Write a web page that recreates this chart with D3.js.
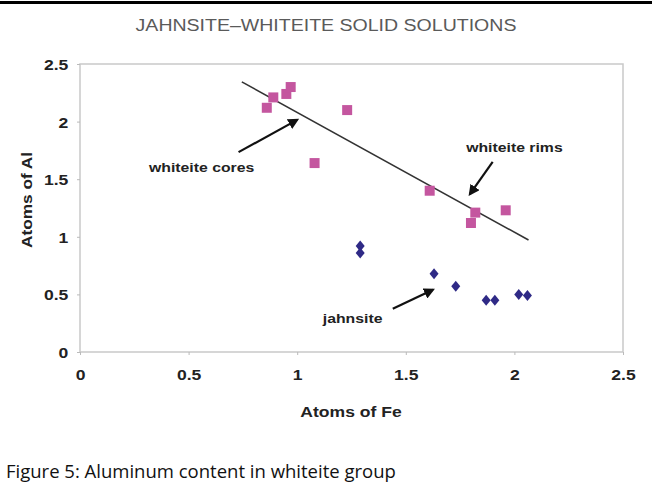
<!DOCTYPE html>
<html><head><meta charset="utf-8">
<script src="https://cdn.jsdelivr.net/npm/d3@7"></script>
<style>body{margin:0;background:#fff} svg{display:block}</style>
</head><body><svg id="c" width="652" height="483"></svg>
<script>
const chartTitle = "JAHNSITE–WHITEITE SOLID SOLUTIONS";
const xLabel = "Atoms of Fe";
const yLabel = "Atoms of Al";
const caption = "Figure 5: Aluminum content in whiteite group";
const xTicks = [0, 0.5, 1, 1.5, 2, 2.5];
const yTicks = [0, 0.5, 1, 1.5, 2, 2.5];

// whiteite (pink squares)
const whiteiteFe = [0.86, 0.89, 0.95, 0.97, 1.08, 1.23, 1.61, 1.80, 1.82, 1.96];
const whiteiteAl = [2.12, 2.21, 2.24, 2.30, 1.64, 2.10, 1.40, 1.12, 1.21, 1.23];
// jahnsite (navy diamonds)
const jahnsiteFe = [1.29, 1.29, 1.63, 1.73, 1.87, 1.91, 2.02, 2.06];
const jahnsiteAl = [0.92, 0.86, 0.68, 0.57, 0.45, 0.45, 0.50, 0.49];
// trend line
const trendFe = [0.745, 2.065];
const trendAl = [2.345, 0.972];
// annotations
const noteText = ["whiteite cores", "whiteite rims", "jahnsite"];
const noteFe = [0.56, 2.0, 1.255];
const noteAl = [1.56, 1.735, 0.25];
const arrowFromFe = [0.73, 1.90, 1.44];
const arrowFromAl = [1.735, 1.65, 0.375];
const arrowToFe = [1.0, 1.795, 1.625];
const arrowToAl = [2.015, 1.37, 0.54];

const SX = 1.17;
const svg = d3.select("#c");
const x = d3.scaleLinear().domain([0, 2.5]).range([80, 623]);
const y = d3.scaleLinear().domain([0, 2.5]).range([352, 64]);

function stretchText(sel, px, py, sx) {
  sel.attr("x", 0).attr("y", 0).attr("transform", `translate(${px},${py}) scale(${sx},1)`);
}

svg.append("rect").attr("x", 0).attr("y", 1).attr("width", 652).attr("height", 3).attr("fill", "#000");

const t = svg.append("text").text(chartTitle)
  .attr("text-anchor", "middle").attr("font-family", "Liberation Sans, Arial, sans-serif")
  .attr("font-size", 17).attr("fill", "#5a5a5a");
stretchText(t, 326, 31, 1.15);

// frame
svg.append("rect").attr("x", x(0)).attr("y", y(2.5)).attr("width", x(2.5) - x(0)).attr("height", y(0) - y(2.5))
  .attr("fill", "none").attr("stroke", "#c9c9c9").attr("stroke-width", 1.5);

const fontAx = "Liberation Sans, Arial, sans-serif";
const gx = svg.append("g").attr("transform", `translate(0,${y(0)})`)
  .call(d3.axisBottom(x).tickValues(xTicks).tickSize(3).tickPadding(14).tickFormat(d3.format("")));
const gy = svg.append("g").attr("transform", `translate(${x(0)},0)`)
  .call(d3.axisLeft(y).tickValues(yTicks).tickSize(3).tickPadding(7).tickFormat(d3.format("")));
[gx, gy].forEach(g => {
  g.select(".domain").remove();
  g.selectAll(".tick line").attr("stroke", "#bbb");
  g.selectAll(".tick text").attr("font-family", fontAx).attr("font-weight", "bold")
    .attr("font-size", 15).attr("fill", "#222");
});
gx.selectAll(".tick text").attr("transform", `scale(${SX},1)`);
gy.selectAll(".tick text").attr("transform", `scale(${SX},1)`).attr("dy", "0.36em");

const xl = svg.append("text").text(xLabel).attr("text-anchor", "middle")
  .attr("font-family", fontAx).attr("font-weight", "bold").attr("font-size", 15).attr("fill", "#222");
stretchText(xl, 351, 417, SX);
const yl = svg.append("text").text(yLabel).attr("text-anchor", "middle")
  .attr("font-family", fontAx).attr("font-weight", "bold").attr("font-size", 15).attr("fill", "#222")
  .attr("x", 0).attr("y", 0).attr("transform", `translate(32,200) rotate(-90) scale(1.15,1)`);

// trend line
svg.append("line").attr("x1", x(trendFe[0])).attr("y1", y(trendAl[0]))
  .attr("x2", x(trendFe[1])).attr("y2", y(trendAl[1]))
  .attr("stroke", "#333").attr("stroke-width", 1.6);

// whiteite squares
const wData = whiteiteFe.map((v, i) => [v, whiteiteAl[i]]);
svg.append("g").selectAll("path").data(wData).enter().append("path")
  .attr("d", d3.symbol(d3.symbolSquare, 100)())
  .attr("transform", d => `translate(${x(d[0])},${y(d[1])})`)
  .attr("fill", "#c4569f");

// jahnsite diamonds
const jData = jahnsiteFe.map((v, i) => [v, jahnsiteAl[i]]);
svg.append("g").selectAll("path").data(jData).enter().append("path")
  .attr("d", "M0,-5.5L4.5,0L0,5.5L-4.5,0Z")
  .attr("transform", d => `translate(${x(d[0])},${y(d[1])})`)
  .attr("fill", "#2f2a86");

// annotations
svg.append("defs").append("marker").attr("id", "ah").attr("viewBox", "0 0 10 10")
  .attr("refX", 8).attr("refY", 5).attr("markerWidth", 5).attr("markerHeight", 5)
  .attr("orient", "auto").append("path").attr("d", "M0,0L10,5L0,10Z").attr("fill", "#111");
noteText.forEach((s, i) => {
  svg.append("line").attr("x1", x(arrowFromFe[i])).attr("y1", y(arrowFromAl[i]))
    .attr("x2", x(arrowToFe[i])).attr("y2", y(arrowToAl[i]))
    .attr("stroke", "#111").attr("stroke-width", 2.2).attr("marker-end", "url(#ah)");
  const tt = svg.append("text").text(s).attr("text-anchor", "middle")
    .attr("font-family", fontAx).attr("font-weight", "bold").attr("font-size", 13.5).attr("fill", "#222");
  stretchText(tt, x(noteFe[i]), y(noteAl[i]), SX);
});

svg.append("text").text(caption).attr("x", 6).attr("y", 478)
  .attr("font-family", "Open Sans, sans-serif").attr("font-size", 18.5).attr("fill", "#111");
</script></body></html>
